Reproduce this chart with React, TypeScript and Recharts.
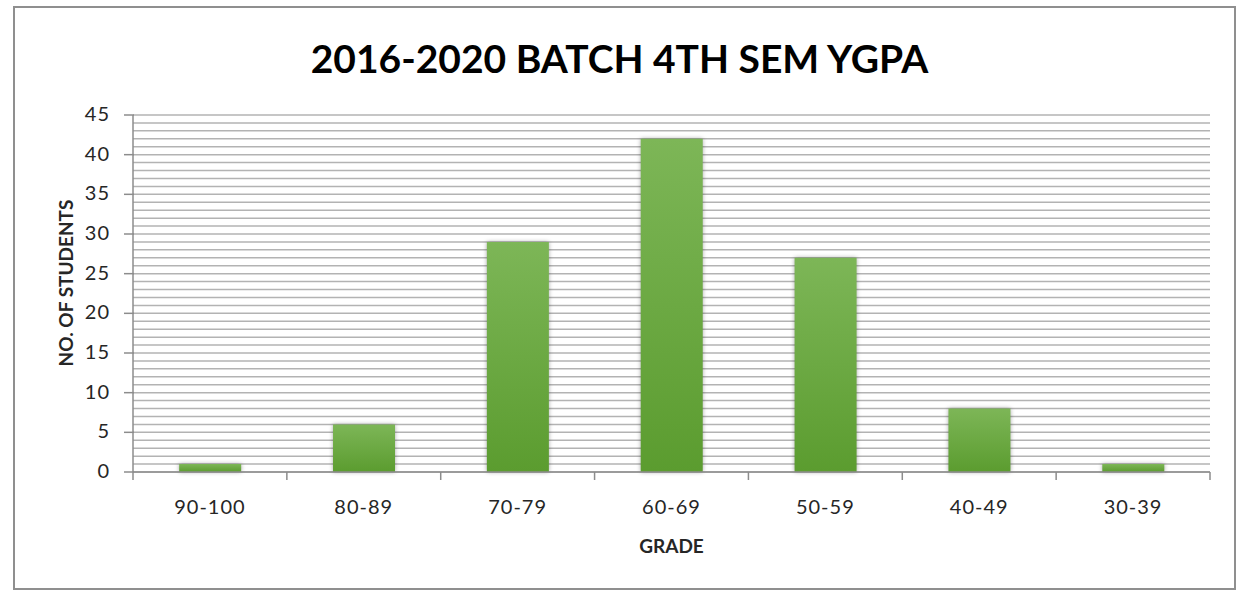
import { Bar, BarChart, CartesianGrid, Label, XAxis, YAxis } from "recharts";

const grades = ["90-100", "80-89", "70-79", "60-69", "50-59", "40-49", "30-39"];
const students = [1, 6, 29, 42, 27, 8, 1];
const yTicks = Array.from({ length: 46 }, (_, i) => i);
const labelledTicks = [0, 5, 10, 15, 20, 25, 30, 35, 40, 45];

const data = grades.map((grade, i) => ({ grade, students: students[i] }));

const W = 1239;
const H = 592;
const margin = { top: 115, right: 29, left: 0, bottom: 0 };
const yAxisWidth = 133;
const xAxisHeight = 120;
const plotWidth = W - margin.left - margin.right - yAxisWidth;
const band = plotWidth / grades.length;

const font = "Lato, Carlito, Calibri, sans-serif";
const axisGray = "#8c8c8c";

function GradeTick(props: any) {
  const { x, y, payload, index } = props;
  const left = x - band / 2;
  return (
    <g>
      <line x1={left} y1={y - 8} x2={left} y2={y} stroke={axisGray} strokeWidth={1.5} />
      {index === grades.length - 1 && (
        <line x1={left + band} y1={y - 8} x2={left + band} y2={y} stroke={axisGray} strokeWidth={1.5} />
      )}
      <text
        x={x}
        y={y + 34}
        textAnchor="middle"
        fontSize={20}
        letterSpacing={1}
        fill="#262626"
        fontFamily={font}
      >
        {payload.value}
      </text>
    </g>
  );
}

function CountTick(props: any) {
  const { x, y, payload } = props;
  if (!labelledTicks.includes(payload.value)) return null;
  return (
    <g>
      <line x1={x - 1} y1={y} x2={x + 9} y2={y} stroke={axisGray} strokeWidth={1.5} />
      <text
        x={x - 15}
        y={y + 6}
        textAnchor="end"
        fontSize={20}
        letterSpacing={1}
        fill="#262626"
        fontFamily={font}
      >
        {payload.value}
      </text>
    </g>
  );
}

export default function App() {
  return (
    <div style={{ position: "absolute", left: 0, top: 0, width: W, height: H, background: "#fff" }}>
      <div
        style={{
          position: "absolute",
          left: 13,
          top: 6,
          width: 1223,
          height: 584,
          boxSizing: "border-box",
          border: "2px solid #8f8f8f",
        }}
      />
      <div
        style={{
          position: "absolute",
          left: 0,
          top: 34,
          width: W,
          textAlign: "center",
          fontFamily: font,
          fontWeight: 700,
          fontSize: 39,
          color: "#000",
          lineHeight: "48px",
        }}
      >
        2016-2020 BATCH 4TH SEM YGPA
      </div>
      <div style={{ position: "absolute", left: 0, top: 0 }}>
        <BarChart width={W} height={H} data={data} margin={margin} barCategoryGap="30%">
          <defs>
            <linearGradient id="barFill" x1="0" y1="0" x2="0" y2="1">
              <stop offset="0%" stopColor="#7db657" />
              <stop offset="100%" stopColor="#5b9c2f" />
            </linearGradient>
          </defs>
          <CartesianGrid vertical={false} stroke="#b3b3b3" strokeWidth={1.5} />
          <XAxis
            dataKey="grade"
            height={xAxisHeight}
            axisLine={{ stroke: axisGray, strokeWidth: 1.5 }}
            tickLine={false}
            tick={<GradeTick />}
            interval={0}
          >
            <Label
              content={({ viewBox }: any) => (
                <text
                  x={viewBox.x + viewBox.width / 2}
                  y={553}
                  textAnchor="middle"
                  fontSize={19}
                  fontWeight={700}
                  fill="#262626"
                  fontFamily={font}
                >
                  GRADE
                </text>
              )}
            />
          </XAxis>
          <YAxis
            width={yAxisWidth}
            domain={[0, 45]}
            ticks={yTicks}
            interval={0}
            axisLine={{ stroke: axisGray, strokeWidth: 1.5 }}
            tickLine={false}
            tick={<CountTick />}
          >
            <Label
              content={() => {
                const cy = 283;
                return (
                  <text
                    x={73}
                    y={cy}
                    transform={`rotate(-90 73 ${cy})`}
                    textAnchor="middle"
                    fontSize={19}
                    fontWeight={700}
                    fill="#262626"
                    fontFamily={font}
                  >
                    NO. OF STUDENTS
                  </text>
                );
              }}
            />
          </YAxis>
          <Bar
            dataKey="students"
            fill="url(#barFill)"
            isAnimationActive={false}
            style={{ filter: "drop-shadow(0px 0px 2px rgba(0,0,0,0.35))" }}
          />
        </BarChart>
      </div>
    </div>
  );
}
